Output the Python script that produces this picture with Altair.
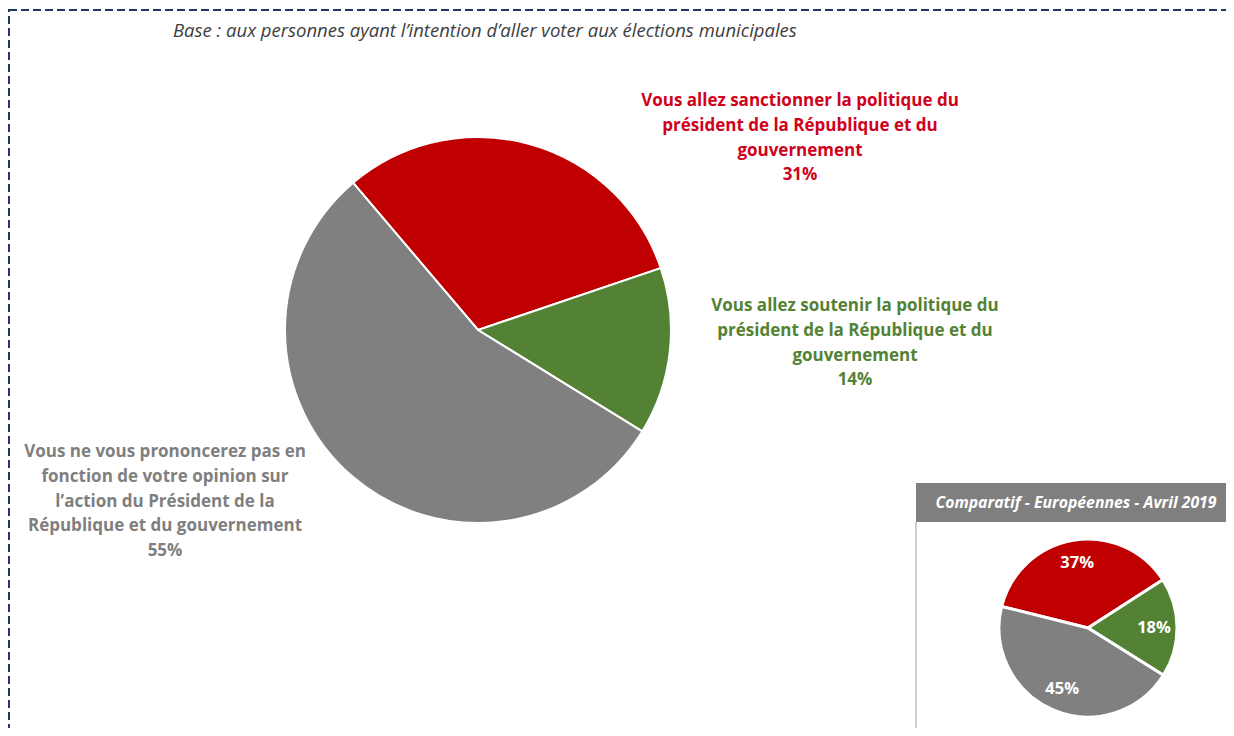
import math
import altair as alt
import pandas as pd

# ---- data ----
categories = ["Sanctionner", "Soutenir", "Ne se prononcent pas"]
municipales_values = [31, 14, 55]
europeennes_values = [37, 18, 45]
colors = ["#C00000", "#548235", "#808080"]
text_colors = ["#D0021B", "#548235", "#7F7F7F"]

subtitle = "Base : aux personnes ayant l\u2019intention d\u2019aller voter aux \u00e9lections municipales"
label_lines = [
    ["Vous allez sanctionner la politique du", "pr\u00e9sident de la R\u00e9publique et du", "gouvernement"],
    ["Vous allez soutenir la politique du", "pr\u00e9sident de la R\u00e9publique et du", "gouvernement"],
    ["Vous ne vous prononcerez pas en", "fonction de votre opinion sur", "l\u2019action du Pr\u00e9sident de la", "R\u00e9publique et du gouvernement"],
]
inset_title = "Comparatif - Europ\u00e9ennes - Avril 2019"

FONT = "Open Sans"

big = pd.DataFrame({"cat": categories, "value": municipales_values, "idx": [0, 1, 2]})
small = pd.DataFrame({"cat": categories, "value": europeennes_values, "idx": [0, 1, 2],
                      "lab": [f"{v}%" for v in europeennes_values]})

color_enc = alt.Color("cat:N", scale=alt.Scale(domain=categories, range=colors), legend=None)

TWO_PI = 2 * math.pi
big_start = math.radians(319.7)
small_start = math.radians(284.0)

# dashed frame
frame = alt.Chart(pd.DataFrame({"a": [0]})).mark_rect(
    fill=None, stroke="#1F3864", strokeWidth=2, strokeDash=[8, 4]
).encode(x=alt.value(1), x2=alt.value(1260), y=alt.value(2), y2=alt.value(760))

sub = alt.Chart(pd.DataFrame({"t": [subtitle]})).mark_text(
    align="left", baseline="middle", font=FONT, fontSize=18.5, fontStyle="italic", color="#404040"
).encode(x=alt.value(165), y=alt.value(23), text="t:N")

big_pie = alt.Chart(big).mark_arc(outerRadius=193, stroke="white", strokeWidth=2).encode(
    theta=alt.Theta("value:Q", stack=True, scale=alt.Scale(range=[big_start, big_start + TWO_PI])),
    order=alt.Order("idx:Q"),
    color=color_enc,
    x=alt.value(470), y=alt.value(322),
)

label_pos = [(792, 93), (847, 298), (157, 444)]
label_layers = []
for i, (lines, (lx, ly)) in enumerate(zip(label_lines, label_pos)):
    txt = lines + [f"{municipales_values[i]}%"]
    label_layers.append(
        alt.Chart(pd.DataFrame({"t": [txt]})).mark_text(
            align="center", baseline="middle", font=FONT, fontSize=17, fontWeight="bold",
            color=text_colors[i], lineHeight=24.8
        ).encode(x=alt.value(lx), y=alt.value(ly), text="t")
    )

header = alt.Chart(pd.DataFrame({"a": [0]})).mark_rect(color="#7F7F7F").encode(
    x=alt.value(908), x2=alt.value(1240), y=alt.value(475), y2=alt.value(514)
)
box_line = alt.Chart(pd.DataFrame({"a": [0]})).mark_rule(color="#BFBFBF", strokeWidth=1.5).encode(
    x=alt.value(908), y=alt.value(514), y2=alt.value(740)
)
header_txt = alt.Chart(pd.DataFrame({"t": [inset_title]})).mark_text(
    align="center", baseline="middle", font=FONT, fontSize=15.8, fontWeight="bold",
    fontStyle="italic", color="white"
).encode(x=alt.value(1068), y=alt.value(495), text="t:N")

small_base = alt.Chart(small).encode(
    theta=alt.Theta("value:Q", stack=True, scale=alt.Scale(range=[small_start, small_start + TWO_PI])),
    order=alt.Order("idx:Q"),
    x=alt.value(1080), y=alt.value(620),
)
small_pie = alt.layer(
    small_base.mark_arc(outerRadius=89, stroke="white", strokeWidth=3).encode(color=color_enc),
    small_base.mark_text(radius=66, font=FONT, fontSize=16.5, fontWeight="bold", color="white").encode(
        text="lab:N"
    ),
)

chart = alt.layer(
    frame, sub, big_pie, *label_layers, header, box_line, header_txt, small_pie
).resolve_scale(theta="independent").properties(
    width=1218, height=720, padding=0, autosize=alt.AutoSizeParams(type="none")
).configure_view(stroke=None)

chart.save("out.html", embed_options={"renderer": "svg", "actions": False})
